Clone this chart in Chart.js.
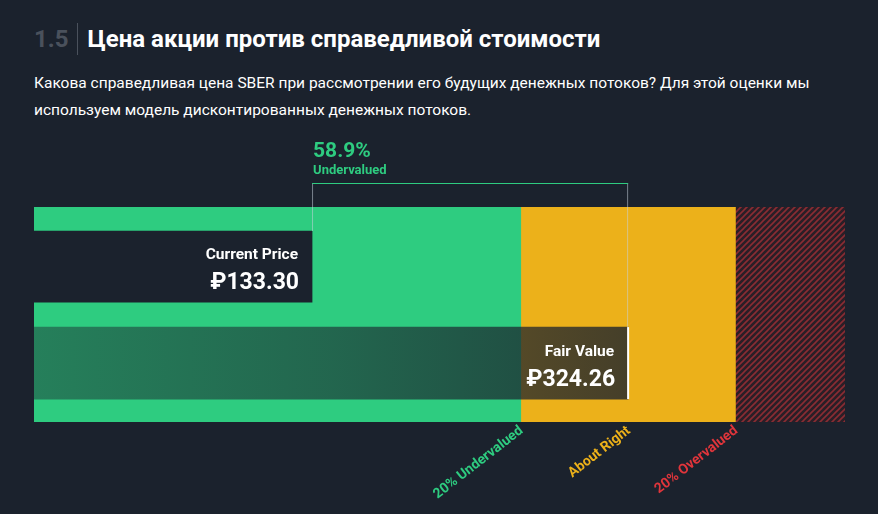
<!DOCTYPE html>
<html><head><meta charset="utf-8">
<script src="https://cdn.jsdelivr.net/npm/chart.js@4"></script>
<style>
html,body{margin:0;padding:0;background:#1b222d;width:878px;height:514px;overflow:hidden;font-family:Roboto,sans-serif}
#wrap{position:absolute;left:0;top:0;width:878px;height:514px}
#hdr{position:absolute;left:34px;top:23px;display:flex;align-items:center}
#num{color:#4a515c;font-size:24px;font-weight:bold;padding-right:8px;border-right:1px solid #4a515c;line-height:32px}
#ttl{color:#fff;font-size:24px;font-weight:bold;padding-left:10px;line-height:32px}
#sub{position:absolute;left:34px;top:70px;width:820px;color:#fff;font-size:15.5px;line-height:27px}
</style></head><body>
<div id="hdr"><span id="num">1.5</span><span id="ttl">Цена акции против справедливой стоимости</span></div>
<div id="sub">Какова справедливая цена SBER при рассмотрении его будущих денежных потоков? Для этой оценки мы используем модель дисконтированных денежных потоков.</div>
<div id="wrap"><canvas id="c" width="878" height="514"></canvas></div>
<script>
const categories = ['Current Price', 'Fair Value'];
const currentPrice = 133.30;
const fairValue = 324.26;
const undervaluedPct = 58.9;
const axisMin = -34.7;
const axisMax = 455.3;
const zoneLabels = ['20% Undervalued', 'About Right', '20% Overvalued'];
const zoneBounds = [axisMin, fairValue*0.8, fairValue*1.2, axisMax];
const zoneLabelAt = [fairValue*0.8, fairValue, fairValue*1.2];

const ctx0 = document.getElementById('c').getContext('2d');
function hatch(){
  const p=document.createElement('canvas');p.width=6;p.height=6;const g=p.getContext('2d');
  g.fillStyle='#2a1f27';g.fillRect(0,0,6,6);
  g.strokeStyle='#8a2c33';g.lineWidth=1.6;
  g.beginPath();g.moveTo(0,6);g.lineTo(6,0);g.moveTo(-3,3);g.lineTo(3,-3);g.moveTo(3,9);g.lineTo(9,3);g.stroke();
  return ctx0.createPattern(p,'repeat');
}
const band=(a,b,color)=>({data:[{x:[a,b],y:0.5}],backgroundColor:color,barThickness:215,order:10,grouped:false});
const fvGrad=(c)=>{const ch=c.chart;const a=ch.chartArea;if(!a)return 'rgba(0,0,0,0.5)';
  const g=ch.ctx.createLinearGradient(a.left,0,ch.scales.x.getPixelForValue(fairValue),0);
  g.addColorStop(0,'rgba(27,34,45,0.45)');g.addColorStop(0.5,'rgba(27,34,45,0.6)');g.addColorStop(1,'rgba(27,34,45,0.8)');return g;};

const deco={id:'deco',afterDatasetsDraw(ch){
  const c=ch.ctx,x=ch.scales.x;
  const xc=x.getPixelForValue(currentPrice),xf=x.getPixelForValue(fairValue);
  const m0=ch.getDatasetMeta(3).data[0],m1=ch.getDatasetMeta(4).data[0];
  c.save();
  c.fillStyle='#fff';c.fillRect(xf-1,m1.y-m1.height/2,2,m1.height);
  const top=183;
  c.strokeStyle='rgba(200,210,220,0.55)';c.lineWidth=1;
  c.beginPath();c.moveTo(xc+0.5,top);c.lineTo(xc+0.5,m0.y-m0.height/2);c.moveTo(xf-0.5,top);c.lineTo(xf-0.5,m1.y-m1.height/2);c.stroke();
  c.strokeStyle='#2ecc80';c.beginPath();c.moveTo(xc,top+0.5);c.lineTo(xf,top+0.5);c.stroke();
  c.fillStyle='#2ecc80';c.textAlign='left';c.textBaseline='alphabetic';
  c.font='bold 21px Roboto';c.fillText(undervaluedPct.toFixed(1)+'%',xc+1,157);
  c.font='bold 13px Roboto';c.fillText('Undervalued',xc+1,174);
  c.fillStyle='#fff';c.textAlign='right';
  c.font='bold 15.5px Roboto';c.fillText(categories[0],xc-14,259);
  c.font='bold 23px Roboto';c.fillText('₽'+currentPrice.toFixed(2),xc-13,289);
  c.font='bold 15.5px Roboto';c.fillText(categories[1],xf-14,356);
  c.font='bold 23px Roboto';c.fillText('₽'+fairValue.toFixed(2),xf-13,386);
  const cols=['#2ecc80','#ecb11a','#e0353b'];
  c.font='bold 14px Roboto';
  for(let i=0;i<3;i++){const px=x.getPixelForValue(zoneLabelAt[i]);
    c.save();c.translate(px+3,432);c.rotate(-0.66);c.fillStyle=cols[i];c.textAlign='right';c.fillText(zoneLabels[i],0,0);c.restore();}
  c.restore();
}};

new Chart(ctx0,{type:'bar',
 data:{datasets:[
  band(zoneBounds[0],zoneBounds[1],'#2ecc80'),
  band(zoneBounds[1],zoneBounds[2],'#ecb11a'),
  band(zoneBounds[2],zoneBounds[3],hatch()),
  {label:categories[0],data:[{x:[axisMin,currentPrice],y:0.277}],backgroundColor:'#1b222d',barThickness:71,order:1,grouped:false},
  {label:categories[1],data:[{x:[axisMin,fairValue],y:0.726}],backgroundColor:fvGrad,barThickness:72,order:1,grouped:false}
 ]},
 options:{indexAxis:'y',responsive:false,animation:false,
  layout:{padding:{left:34,right:33,top:207,bottom:92}},
  plugins:{legend:{display:false},tooltip:{enabled:false}},
  scales:{x:{type:'linear',min:axisMin,max:axisMax,display:false},y:{type:'linear',min:0,max:1,reverse:true,offset:false,display:false}}},
 plugins:[deco]});
</script></body></html>
